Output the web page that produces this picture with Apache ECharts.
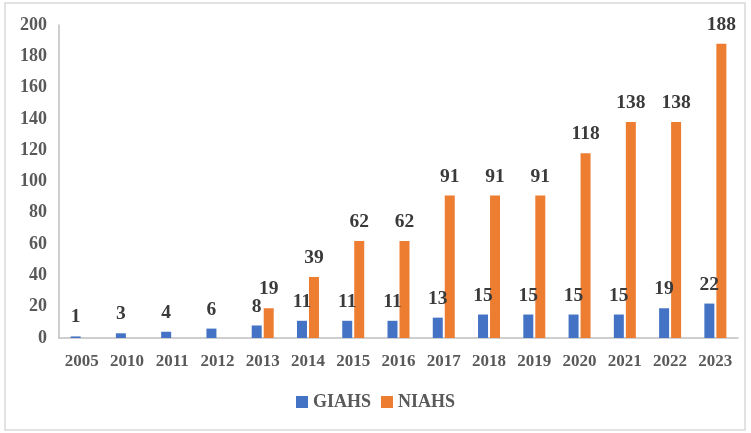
<!DOCTYPE html>
<html>
<head>
<meta charset="utf-8">
<script src="https://cdn.jsdelivr.net/npm/echarts@6/dist/echarts.min.js"></script>
<style>
  html, body { margin: 0; padding: 0; background: #fff; }
  #chart { width: 751px; height: 433px; }
</style>
</head>
<body>
<div id="chart"></div>
<script>
  // 年份
  var years = ['2005', '2010', '2011', '2012', '2013', '2014', '2015', '2016', '2017', '2018', '2019', '2020', '2021', '2022', '2023'];
  // GIAHS / NIAHS 数量
  var giahs = [1, 3, 4, 6, 8, 11, 11, 11, 13, 15, 15, 15, 15, 19, 22];
  var niahs = [0, 0, 0, 0, 19, 39, 62, 62, 91, 91, 91, 118, 138, 138, 188];

  var font = "'Liberation Serif', 'Times New Roman', serif";

  var chart = echarts.init(document.getElementById('chart'));

  var labelStyle = {
    show: true,
    position: 'top',
    distance: 9,
    fontFamily: font,
    fontWeight: 'bold',
    fontSize: 19.5,
    color: '#3a3a3a',
    formatter: function (p) { return p.value ? p.value : ''; }
  };

  var option = {
    animation: false,
    textStyle: { fontFamily: font },
    graphic: [{
      type: 'rect',
      shape: { x: 5, y: 3, width: 740, height: 427 },
      style: { fill: 'none', stroke: '#d9d9d9', lineWidth: 1.5 },
      silent: true
    }],
    grid: { left: 59, right: 13, top: 25, bottom: 95 },
    legend: {
      bottom: 17,
      left: 'center',
      itemWidth: 12,
      itemHeight: 12,
      itemGap: 10,
      icon: 'rect',
      textStyle: { fontFamily: font, fontWeight: 'bold', fontSize: 18, color: '#595959' },
      data: ['GIAHS', 'NIAHS']
    },
    xAxis: {
      type: 'category',
      data: years,
      axisLine: { lineStyle: { color: '#bfbfbf', width: 1.5 } },
      axisTick: { show: false },
      axisLabel: { margin: 15, fontFamily: font, fontWeight: 'bold', fontSize: 17, color: '#595959' }
    },
    yAxis: {
      type: 'value',
      min: 0,
      max: 200,
      interval: 20,
      axisLine: { show: true, lineStyle: { color: '#bfbfbf', width: 1.5 } },
      axisTick: { show: false },
      splitLine: { show: false },
      axisLabel: { margin: 12, fontFamily: font, fontWeight: 'bold', fontSize: 18, color: '#595959' }
    },
    series: [
      {
        name: 'GIAHS',
        type: 'bar',
        data: giahs,
        barWidth: 10,
        barGap: '20%',
        itemStyle: { color: '#4472C4' },
        label: labelStyle
      },
      {
        name: 'NIAHS',
        type: 'bar',
        data: niahs,
        barWidth: 10,
        barGap: '20%',
        itemStyle: { color: '#ED7D31' },
        label: labelStyle
      }
    ]
  };

  chart.setOption(option);
</script>
</body>
</html>
